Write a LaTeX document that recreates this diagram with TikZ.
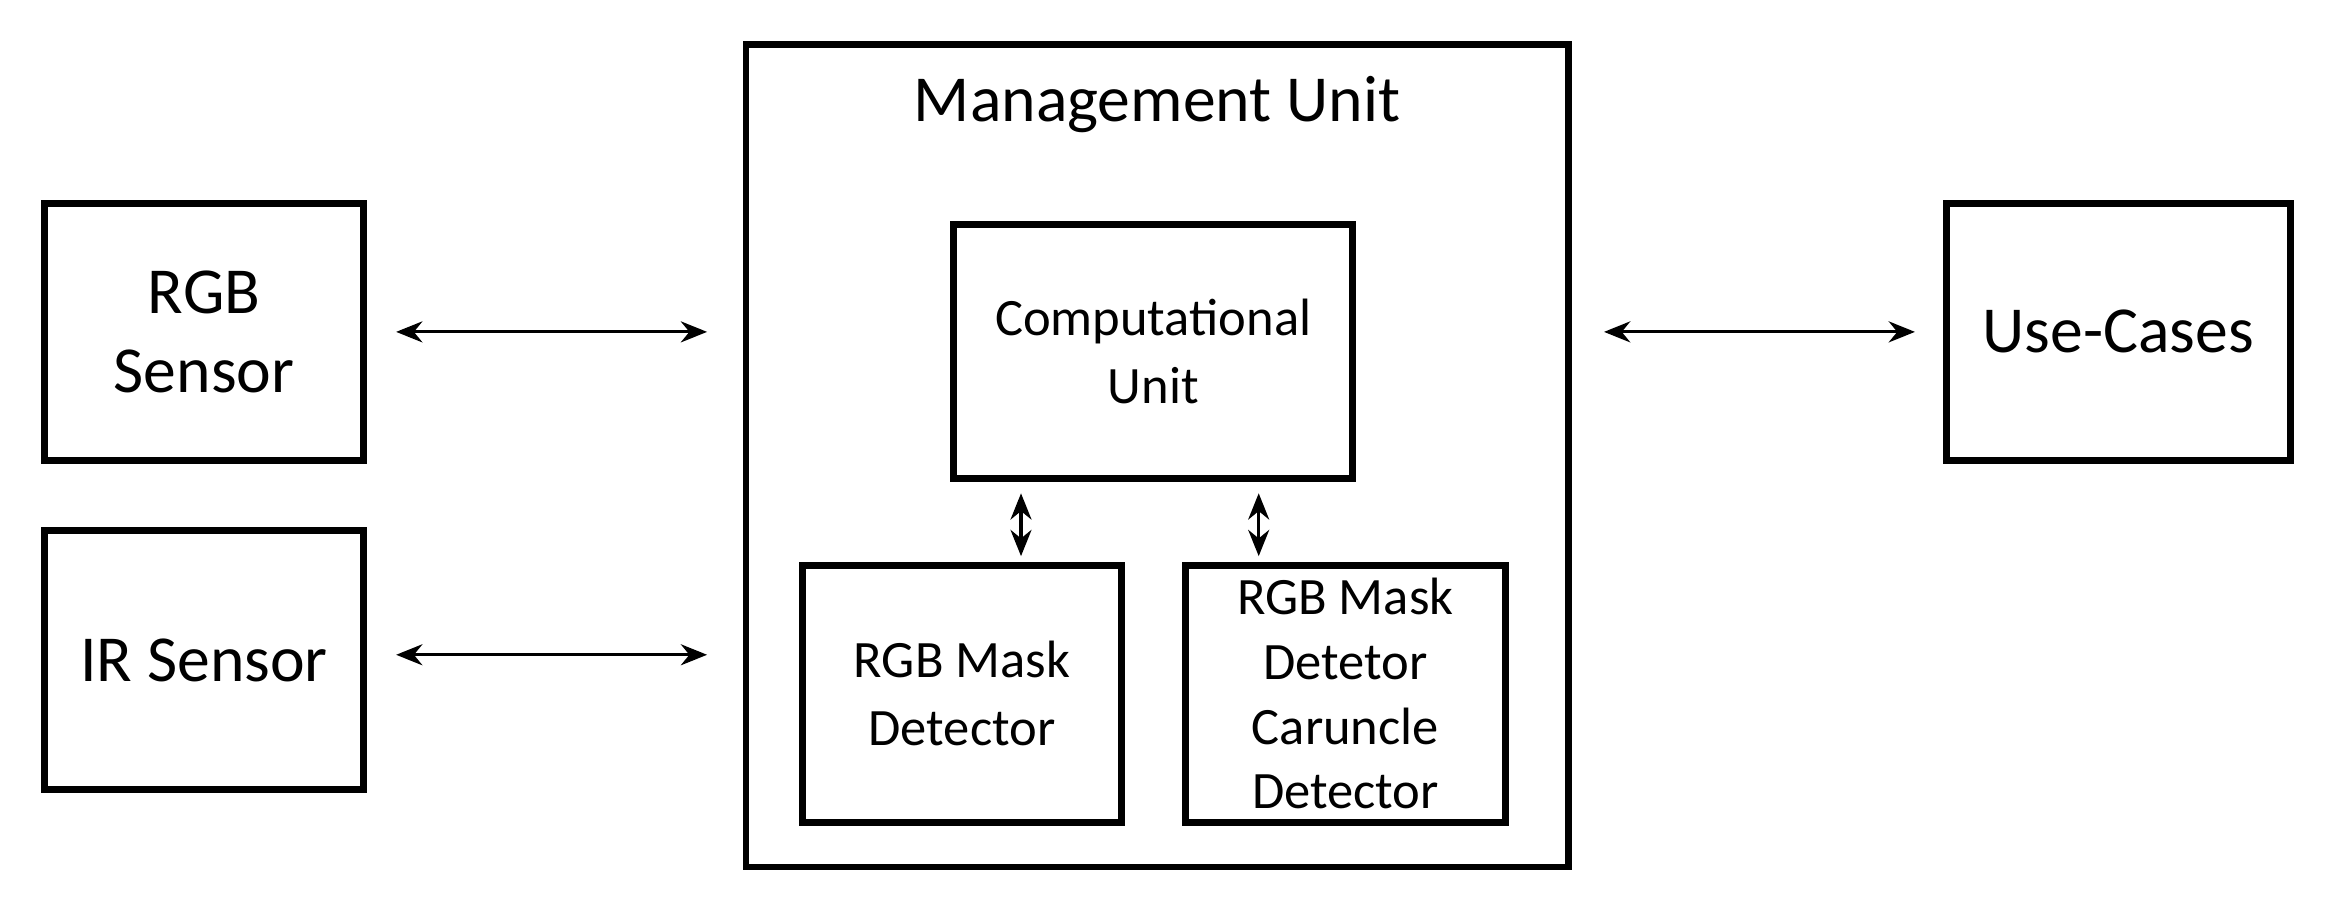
\documentclass[tikz,border=0pt]{standalone}
\usepackage{fontspec}
\setmainfont{Carlito}
\usetikzlibrary{arrows.meta}
\begin{document}
\begin{tikzpicture}[x=0.1mm,y=-0.1mm,
  box/.style={draw,line width=1.3pt,inner sep=0pt,align=center},
  big/.style={font=\fontsize{12.5}{15}\selectfont},
  small/.style={font=\fontsize{10}{13}\selectfont},
  arr/.style={{Stealth[length=5pt,width=4pt]}-{Stealth[length=5pt,width=4pt]},line width=0.6pt}]
\useasboundingbox (0,0) rectangle (1568,613);
\node[box,big,minimum width=213*0.1mm,minimum height=172*0.1mm] (rgb) at (136.5,222) {RGB\\Sensor};
\node[box,big,minimum width=213*0.1mm,minimum height=173*0.1mm] (ir) at (136.5,441.5) {IR Sensor};
\node[box,minimum width=550*0.1mm,minimum height=550*0.1mm] (mu) at (774,305) {};
\node[big] (mut) at (774,70) {Management Unit};
\node[box,small,minimum width=267*0.1mm,minimum height=170*0.1mm] (cu) at (771.5,235) {Computational\\Unit};
\node[box,small,minimum width=213*0.1mm,minimum height=172*0.1mm] (md) at (643.5,464) {RGB Mask\\Detector};
\node[box,minimum width=214*0.1mm,minimum height=172*0.1mm,font=\fontsize{10}{12.3}\selectfont] (cd) at (900,464) {RGB Mask\\Detetor\\Caruncle\\Detector};
\node[box,big,minimum width=230*0.1mm,minimum height=172*0.1mm] (uc) at (1417,222) {Use-Cases};
\coordinate (a1) at (265,222); \coordinate (b1) at (473,222);
\coordinate (a2) at (265,438); \coordinate (b2) at (473,438);
\coordinate (a3) at (1073,222); \coordinate (b3) at (1281,222);
\draw[arr] (a1) -- (b1);
\draw[arr] (a2) -- (b2);
\draw[arr] (a3) -- (b3);
\draw[arr] (683,330) -- (683,372);
\draw[arr] (842,330) -- (842,372);
\end{tikzpicture}
\end{document}
